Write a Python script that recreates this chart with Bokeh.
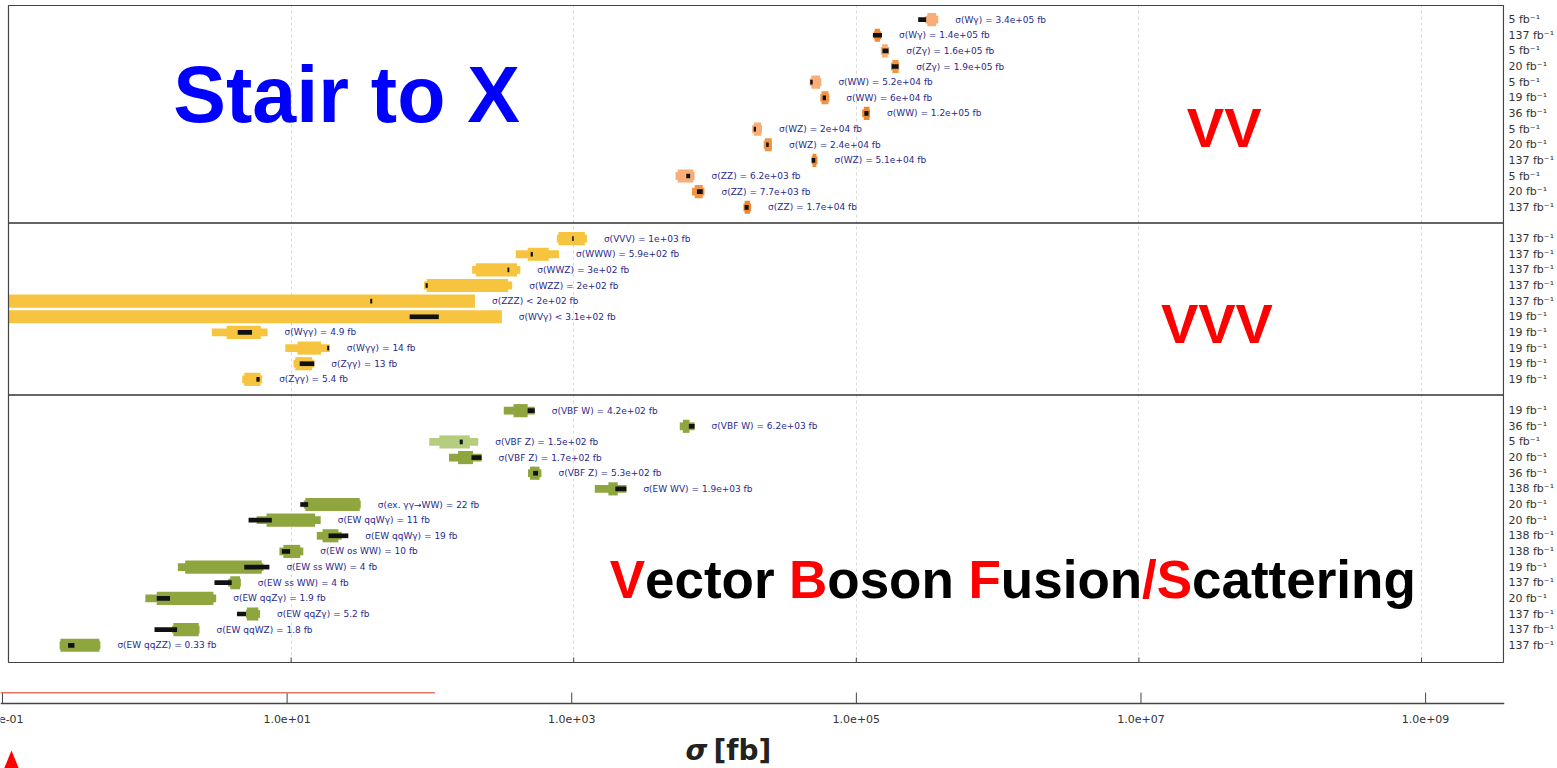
import math
from bokeh.plotting import figure
from bokeh.models import (Range1d, FixedTicker, Span, Label, ColumnDataSource,
                          BoxAnnotation, PolyAnnotation)
from bokeh.layouts import column
from bokeh.embed import file_html
from bokeh.resources import INLINE
from bokeh.core.properties import value

NAN = float("nan")

# ---------------- VV ----------------
vv_text = ["σ(Wγ) = 3.4e+05 fb", "σ(Wγ) = 1.4e+05 fb", "σ(Zγ) = 1.6e+05 fb", "σ(Zγ) = 1.9e+05 fb",
           "σ(WW) = 5.2e+04 fb", "σ(WW) = 6e+04 fb", "σ(WW) = 1.2e+05 fb",
           "σ(WZ) = 2e+04 fb", "σ(WZ) = 2.4e+04 fb", "σ(WZ) = 5.1e+04 fb",
           "σ(ZZ) = 6.2e+03 fb", "σ(ZZ) = 7.7e+03 fb", "σ(ZZ) = 1.7e+04 fb"]
vv_value = [3.4e5, 1.4e5, 1.6e5, 1.9e5, 5.2e4, 6e4, 1.2e5, 2e4, 2.4e4, 5.1e4, 6.2e3, 7.7e3, 1.7e4]
vv_limit = [False] * 13
vv_tot_lo = [3.07e5, 1.33e5, 1.49e5, 1.76e5, 4.68e4, 5.56e4, 1.10e5, 1.83e4, 2.21e4, 4.82e4, 5.26e3, 6.87e3, 1.59e4]
vv_tot_hi = [3.80e5, 1.50e5, 1.71e5, 2.01e5, 5.66e4, 6.44e4, 1.25e5, 2.15e4, 2.53e4, 5.31e4, 7.17e3, 8.42e3, 1.80e4]
vv_stat_lo = [3.18e5, 1.35e5, 1.52e5, 1.80e5, 4.80e4, 5.67e4, 1.13e5, 1.88e4, 2.25e4, 4.90e4, 5.44e3, 7.19e3, 1.62e4]
vv_stat_hi = [3.68e5, 1.47e5, 1.67e5, 1.99e5, 5.55e4, 6.35e4, 1.24e5, 2.12e4, 2.52e4, 5.22e4, 7.03e3, 8.19e3, 1.77e4]
vv_th_lo = [2.74e5, 1.31e5, 1.53e5, 1.78e5, 4.72e4, 5.78e4, 1.14e5, 1.88e4, 2.30e4, 4.83e4, 6.26e3, 7.45e3, 1.62e4]
vv_th_hi = [3.12e5, 1.52e5, 1.69e5, 1.99e5, 4.91e4, 6.10e4, 1.22e5, 1.95e4, 2.40e4, 5.12e4, 6.67e3, 8.19e3, 1.73e4]
vv_lumi = ["5 fb⁻¹", "137 fb⁻¹", "5 fb⁻¹", "20 fb⁻¹", "5 fb⁻¹", "19 fb⁻¹", "36 fb⁻¹",
           "5 fb⁻¹", "20 fb⁻¹", "137 fb⁻¹", "5 fb⁻¹", "20 fb⁻¹", "137 fb⁻¹"]

# ---------------- VVV ----------------
vvv_text = ["σ(VVV) = 1e+03 fb", "σ(WWW) = 5.9e+02 fb", "σ(WWZ) = 3e+02 fb", "σ(WZZ) = 2e+02 fb",
            "σ(ZZZ) < 2e+02 fb", "σ(WVγ) < 3.1e+02 fb", "σ(Wγγ) = 4.9 fb", "σ(Wγγ) = 14 fb",
            "σ(Zγγ) = 13 fb", "σ(Zγγ) = 5.4 fb"]
vvv_value = [1e3, 5.9e2, 3e2, 2e2, 2e2, 3.1e2, 4.9, 14, 13, 5.4]
vvv_limit = [False, False, False, False, True, True, False, False, False, False]
vvv_tot_lo = [7.6e2, 3.89e2, 1.91e2, 87, NAN, NAN, 2.75, 9.1, 10.4, 4.51]
vvv_tot_hi = [1.24e3, 7.87e2, 4.19e2, 367, NAN, NAN, 6.82, 18.8, 14.6, 6.24]
vvv_stat_lo = [7.8e2, 4.73e2, 2.03e2, 91, NAN, NAN, 3.50, 11.1, 10.7, 4.66]
vvv_stat_hi = [1.2e3, 6.66e2, 3.97e2, 343, NAN, NAN, 6.11, 16.3, 14.1, 6.08]
vvv_th_lo = [9.75e2, 4.96e2, 3.4e2, 89.5, 36.3, 69, 4.19, 18.0, 11.5, 5.68]
vvv_th_hi = [1.0e3, 5.14e2, 3.5e2, 92.7, 37.5, 111, 5.29, 18.6, 14.6, 5.99]
vvv_lumi = ["137 fb⁻¹"] * 5 + ["19 fb⁻¹"] * 5

# ---------------- VBF / VBS ----------------
vbf_text = ["σ(VBF W) = 4.2e+02 fb", "σ(VBF W) = 6.2e+03 fb", "σ(VBF Z) = 1.5e+02 fb",
            "σ(VBF Z) = 1.7e+02 fb", "σ(VBF Z) = 5.3e+02 fb", "σ(EW WV) = 1.9e+03 fb",
            "σ(ex. γγ→WW) = 22 fb", "σ(EW qqWγ) = 11 fb", "σ(EW qqWγ) = 19 fb",
            "σ(EW os WW) = 10 fb", "σ(EW ss WW) = 4 fb", "σ(EW ss WW) = 4 fb",
            "σ(EW qqZγ) = 1.9 fb", "σ(EW qqZγ) = 5.2 fb", "σ(EW qqWZ) = 1.8 fb",
            "σ(EW qqZZ) = 0.33 fb"]
vbf_value = [4.2e2, 6.2e3, 1.5e2, 1.7e2, 5.3e2, 1.9e3, 22, 11, 19, 10, 4, 4, 1.9, 5.2, 1.8, 0.33]
vbf_limit = [False] * 16
vbf_tot_lo = [3.2e2, 5.63e3, 95, 131, 4.75e2, 1.41e3, 12.3, 5.7, 15.2, 8.27, 1.58, 3.59, 0.93, 4.8, 1.44, 0.230]
vbf_tot_hi = [5.3e2, 7.17e3, 211, 223, 5.91e2, 2.36e3, 31.1, 16.2, 22.8, 12.2, 6.37, 4.41, 2.95, 6.03, 2.25, 0.447]
vbf_stat_lo = [3.75e2, 5.92e3, 112, 152, 4.9e2, 1.76e3, 12.6, 6.7, 16.7, 8.82, 1.78, 3.71, 1.12, 4.86, 1.47, 0.233]
vbf_stat_hi = [4.72e2, 6.6e3, 184, 194, 5.73e2, 2.05e3, 30.6, 14.8, 21.6, 11.6, 6.2, 4.35, 2.82, 5.86, 2.22, 0.44]
vbf_th_lo = [4.72e2, 6.53e3, 156, 189, 5.16e2, 1.97e3, 11.6, 5.0, 18.4, 8.6, 4.66, 2.87, 1.12, 4.14, 1.08, 0.264]
vbf_th_hi = [5.3e2, 7.17e3, 164, 223, 5.59e2, 2.36e3, 13.2, 7.3, 25.4, 9.84, 7.02, 3.8, 1.39, 4.8, 1.56, 0.293]
vbf_lumi = ["19 fb⁻¹", "36 fb⁻¹", "5 fb⁻¹", "20 fb⁻¹", "36 fb⁻¹", "138 fb⁻¹", "20 fb⁻¹", "20 fb⁻¹",
            "138 fb⁻¹", "138 fb⁻¹", "19 fb⁻¹", "137 fb⁻¹", "20 fb⁻¹", "137 fb⁻¹", "137 fb⁻¹", "137 fb⁻¹"]

decade_ticks = [0.1, 10, 1e3, 1e5, 1e7, 1e9]

# ---------------- styling ----------------
VV_COL = {"5": "#f8ae78", "19": "#f29445", "20": "#f29445", "36": "#f08630", "137": "#f08630"}
VVV_COL = {"137": "#f6c43e", "19": "#f6c43e"}
VBF_COL = {"5": "#b6cd80", "19": "#8fa63f", "20": "#8fa63f", "36": "#8fa63f",
           "137": "#8fa63f", "138": "#8fa63f"}

sections = [
    (vv_text, vv_value, vv_limit, vv_tot_lo, vv_tot_hi, vv_stat_lo, vv_stat_hi, vv_th_lo, vv_th_hi, vv_lumi, VV_COL),
    (vvv_text, vvv_value, vvv_limit, vvv_tot_lo, vvv_tot_hi, vvv_stat_lo, vvv_stat_hi, vvv_th_lo, vvv_th_hi, vvv_lumi, VVV_COL),
    (vbf_text, vbf_value, vbf_limit, vbf_tot_lo, vbf_tot_hi, vbf_stat_lo, vbf_stat_hi, vbf_th_lo, vbf_th_hi, vbf_lumi, VBF_COL),
]

PXD = 141.5                        # pixels per decade in the main panel
SLOT = 15.64                       # pixels per row
X0, X1 = 0.1, 10 ** 9.58           # box edges
XL = 10 ** (-1 - 8 / PXD)          # canvas left edge (a little left of the box)
XR = 10 ** (9.58 + 1 / PXD)        # one pixel right of the box

box = dict(y=[], tl=[], th=[], sl=[], sh=[], c=[])
lim = dict(y=[], l=[], r=[], c=[])
th = dict(y=[], l=[], r=[])
lab = dict(y=[], x=[], t=[])
separators = []
lumi_map = {}
slot = 0
for si, (txt, val, islim, tlo, thi, slo, shi, tlo2, thi2, lumi, cols) in enumerate(sections):
    if si > 0:
        separators.append(slot)
        slot += 1
    for i in range(len(txt)):
        col = cols[lumi[i].split()[0]]
        if islim[i]:
            lim["y"].append(slot); lim["l"].append(X0); lim["r"].append(val[i]); lim["c"].append(col)
            right = val[i]
        else:
            box["y"].append(slot); box["tl"].append(tlo[i]); box["th"].append(thi[i])
            box["sl"].append(slo[i]); box["sh"].append(shi[i]); box["c"].append(col)
            right = max(thi[i], shi[i])
        th["y"].append(slot); th["l"].append(tlo2[i]); th["r"].append(thi2[i])
        right = max(right, thi2[i])
        lab["y"].append(slot); lab["x"].append(right); lab["t"].append(txt[i])
        lumi_map[slot] = lumi[i]
        slot += 1
n_slots = slot
YB, YT = n_slots + 0.1, -0.9       # box edges (rows)

# ---------------- main panel ----------------
p = figure(width=1557, height=663, x_axis_type="log", x_range=Range1d(XL, XR),
           y_range=Range1d(YB + 1 / SLOT, YT - 1 / SLOT), y_axis_location="right",
           x_axis_location=None, output_backend="svg", toolbar_location=None,
           min_border_left=0, min_border_top=4, min_border_right=51, min_border_bottom=0)
p.outline_line_color = None
p.background_fill_color = "white"
p.border_fill_color = "white"

p.xgrid.ticker = FixedTicker(ticks=decade_ticks[1:])
p.xgrid.grid_line_color = "#d9d9d9"
p.xgrid.grid_line_dash = "3 3"
p.ygrid.visible = False

p.yaxis.ticker = FixedTicker(ticks=list(lumi_map.keys()))
p.yaxis.major_label_overrides = lumi_map
p.yaxis.major_tick_in = 0
p.yaxis.major_tick_out = 0
p.yaxis.minor_tick_line_color = None
p.yaxis.axis_line_color = None
p.yaxis.major_label_standoff = 4
p.yaxis.major_label_text_font = "DejaVu Sans"
p.yaxis.major_label_text_font_size = "11px"
p.yaxis.major_label_text_color = "#333333"

# panel box, section separators and inner ticks on the lower edge
p.add_layout(BoxAnnotation(left=X0, right=X1, top=YT, bottom=YB, fill_color=None, fill_alpha=0,
                           line_color="#444444", line_alpha=1, line_width=1.2))
p.segment(x0=[X0] * len(separators), x1=[X1] * len(separators), y0=separators, y1=separators,
          line_color="#333333", line_width=1.5)
p.segment(x0=decade_ticks, x1=decade_ticks, y0=[YB] * len(decade_ticks),
          y1=[YB - 0.32] * len(decade_ticks), line_color="#444444", line_width=1)

bsrc = ColumnDataSource(box)
p.hbar(y="y", left="tl", right="th", height=0.5, fill_color="c", line_color=None, source=bsrc)
p.hbar(y="y", left="sl", right="sh", height=0.84, fill_color="c", line_color=None, source=bsrc)
p.hbar(y="y", left="l", right="r", height=0.84, fill_color="c", line_color=None,
       source=ColumnDataSource(lim))
p.hbar(y="y", left="l", right="r", height=0.3, fill_color="#111111", line_color=None,
       source=ColumnDataSource(th))
p.text(x="x", y="y", text="t", source=ColumnDataSource(lab), x_offset=17,
       text_font=value("DejaVu Sans"), text_font_size="9px", text_color="#2a2a8c",
       text_baseline="middle", text_align="left")


def xpos(px):
    return 10 ** ((px - 8) / PXD - 1)


def ypos(py):
    return (py - 19.1) / SLOT


def big(px, py, txt, size, color):
    p.add_layout(Label(x=xpos(px), y=ypos(py), text=txt, text_font="Liberation Sans",
                       text_font_style="bold", text_font_size=size, text_color=color,
                       text_baseline="middle", text_align="left"))


big(173, 94, "Stair to X", "79px", "#0000ff")
big(1188, 127.5, "VV", "56px", "#ff0000")
big(1162, 322.5, "VVV", "56px", "#ff0000")
for px, piece, colr in [(610, "V", "#ff0000"), (645.4, "ector", "#000000"),
                        (789.7, "B", "#ff0000"), (827.9, "oson", "#000000"),
                        (969.3, "F", "#ff0000"), (1001.7, "usion", "#000000"),
                        (1143, "/S", "#ff0000"), (1193.1, "cattering", "#000000")]:
    big(px, 579, piece, "53px", colr)

# ---------------- axis panel (drawn inside its own frame) ----------------
PXB = 142.5
LB0 = -1 - 2 / PXB
LB1 = LB0 + 1506 / PXB
q = figure(width=1557, height=105, x_axis_type="log", x_range=Range1d(10 ** LB0, 10 ** LB1),
           y_range=Range1d(768, 663), y_axis_location=None, x_axis_location=None,
           output_backend="svg", toolbar_location=None,
           min_border_left=0, min_border_right=51, min_border_top=0, min_border_bottom=0)
q.outline_line_color = None
q.grid.visible = False

AXIS_Y = 703
q.add_layout(Span(location=AXIS_Y, dimension="width", line_color="#444444", line_width=1.5))
q.segment(x0=decade_ticks, x1=decade_ticks, y0=[AXIS_Y] * len(decade_ticks),
          y1=[AXIS_Y - 11] * len(decade_ticks), line_color="#444444", line_width=1)
q.text(x=decade_ticks, y=[718] * len(decade_ticks), text=[f"{t:.1e}" for t in decade_ticks],
       text_font=value("DejaVu Sans"), text_font_size="11px", text_color="#333333",
       text_align="center", text_baseline="middle")


def xb(px):
    return 10 ** (LB0 + px / PXB)


q.add_layout(Label(x=xb(686), y=750, text="σ", text_font="DejaVu Sans",
                   text_font_style="bold italic", text_font_size="28px", text_color="#222222",
                   text_align="left", text_baseline="middle"))
q.add_layout(Label(x=xb(714), y=750, text="[fb]", text_font="DejaVu Sans",
                   text_font_style="bold", text_font_size="28px", text_color="#222222",
                   text_align="left", text_baseline="middle"))

# slide decorations
q.add_layout(BoxAnnotation(left=10 ** LB0, right=xb(435), bottom=693, top=691.5,
                           fill_color="#e57365", fill_alpha=1, line_color=None))
q.add_layout(PolyAnnotation(xs=[xb(2), xb(11), xb(20)], ys=[772, 750, 772],
                            fill_color="#ff0000", fill_alpha=1, line_color=None))

layout = column(p, q, spacing=0)
open("out.html", "w").write(file_html(layout, INLINE))
